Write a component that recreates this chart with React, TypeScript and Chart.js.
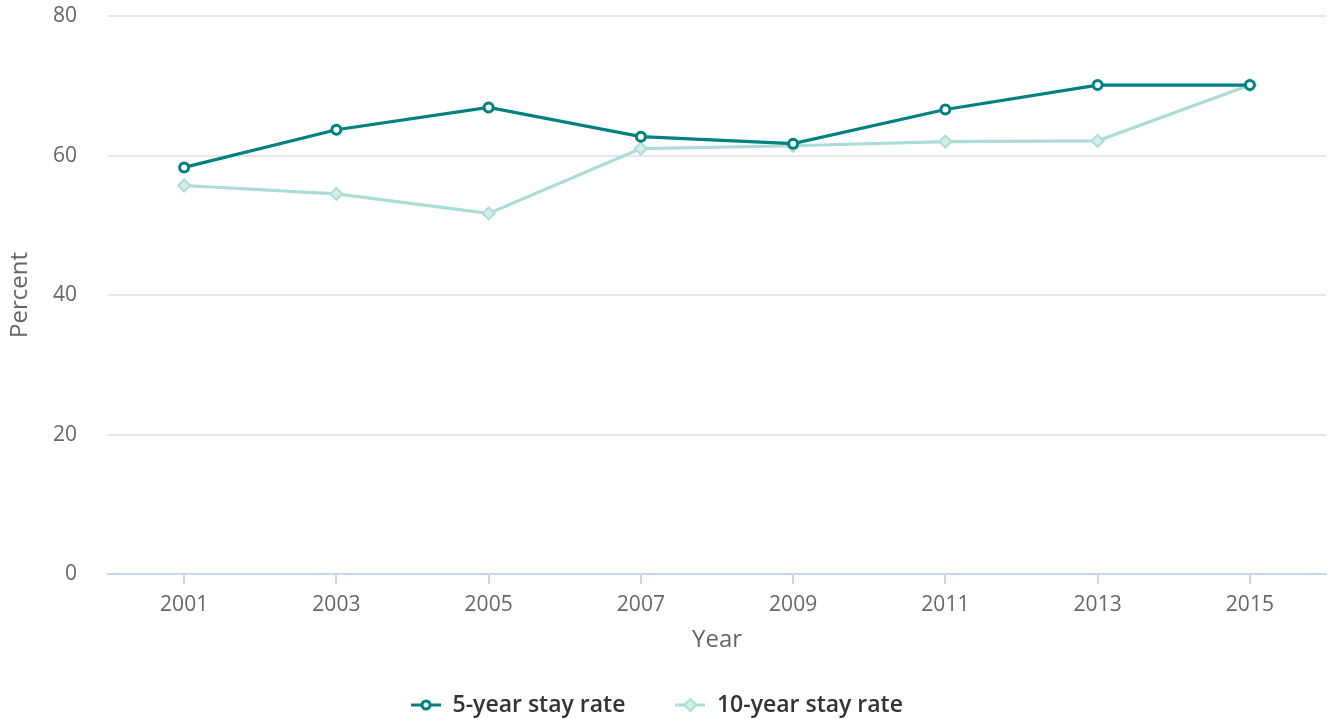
import React, { useEffect, useRef } from "react";
import { Chart, registerables } from "chart.js";

Chart.register(...registerables);

const years = ["2001", "2003", "2005", "2007", "2009", "2011", "2013", "2015"];
const fiveYear = [58.3, 63.7, 66.9, 62.7, 61.7, 66.6, 70.1, 70.1];
const tenYear = [55.7, 54.5, 51.7, 61.0, 61.4, 62.0, 62.1, 70.1];
const seriesNames = ["5-year stay rate", "10-year stay rate"];
const yTicks = [0, 20, 40, 60, 80];

const DARK = "#00807f";
const LIGHT = "#acdcd8";
const FONT = "'Open Sans', 'Noto Sans', sans-serif";

function legendIcon(color: string, kind: "circle" | "diamond") {
  const c = document.createElement("canvas");
  c.width = 30;
  c.height = 16;
  const ctx = c.getContext("2d")!;
  ctx.strokeStyle = color;
  ctx.lineWidth = 3;
  ctx.beginPath();
  ctx.moveTo(0, 8);
  ctx.lineTo(30, 8);
  ctx.stroke();
  ctx.beginPath();
  if (kind === "circle") {
    ctx.lineWidth = 3;
    ctx.fillStyle = "#ffffff";
    ctx.arc(15, 8, 4, 0, Math.PI * 2);
  } else {
    ctx.lineWidth = 2;
    ctx.fillStyle = "#d5eeeb";
    ctx.moveTo(15, 2);
    ctx.lineTo(21, 8);
    ctx.lineTo(15, 14);
    ctx.lineTo(9, 8);
    ctx.closePath();
  }
  ctx.fill();
  ctx.stroke();
  return c;
}

export default function App() {
  const ref = useRef<HTMLCanvasElement | null>(null);

  useEffect(() => {
    if (!ref.current) return;
    const icons = [legendIcon(DARK, "circle"), legendIcon(LIGHT, "diamond")];
    const chart = new Chart(ref.current, {
      type: "line",
      data: {
        labels: years,
        datasets: [
          {
            label: seriesNames[0],
            data: fiveYear,
            borderColor: DARK,
            backgroundColor: "#ffffff",
            borderWidth: 3.2,
            pointStyle: "circle",
            pointRadius: 4.5,
            pointBorderWidth: 3,
            pointBorderColor: DARK,
            pointBackgroundColor: "#ffffff",
            tension: 0,
          },
          {
            label: seriesNames[1],
            data: tenYear,
            borderColor: LIGHT,
            backgroundColor: "#ffffff",
            borderWidth: 3.2,
            pointStyle: "rectRot",
            pointRadius: 6,
            pointBorderWidth: 2,
            pointBorderColor: LIGHT,
            pointBackgroundColor: "#d5eeeb",
            tension: 0,
          },
        ],
      },
      options: {
        animation: false,
        responsive: true,
        maintainAspectRatio: false,
        layout: { autoPadding: false, padding: { top: 16, right: 5, left: -12, bottom: -7.5 } },
        plugins: {
          tooltip: { enabled: false },
          legend: {
            position: "bottom",
            labels: {
              usePointStyle: true,
              pointStyleWidth: 30,
              font: { family: FONT, size: 23, weight: "600" },
              color: "#333333",
              padding: 50,
              generateLabels: (ch: any) =>
                ch.data.datasets.map((ds: any, i: number) => ({
                  text: ds.label,
                  pointStyle: icons[i],
                  fillStyle: ds.borderColor,
                  strokeStyle: ds.borderColor,
                  lineWidth: 0,
                  hidden: false,
                  datasetIndex: i,
                  fontColor: "#333333",
                })),
            },
          },
        },
        scales: {
          x: {
            offset: true,
            afterFit: (axis: any) => {
              axis.height = 69.4;
              axis.paddingLeft = 0;
              axis.paddingRight = 0;
            },
            grid: {
              offset: false,
              drawOnChartArea: false,
              drawTicks: true,
              tickLength: 10,
              color: "#ccd6eb",
              lineWidth: 2,
            },
            border: { color: "#ccd6eb", width: 2 },
            ticks: {
              color: "#666666",
              font: { family: FONT, size: 21 },
              padding: 8,
              maxRotation: 0,
            },
            title: {
              display: true,
              text: "Year",
              color: "#666666",
              font: { family: FONT, size: 24 },
              padding: { top: 4, bottom: -11 },
            },
          },
          y: {
            min: 0,
            max: 80,
            afterBuildTicks: (axis: any) => {
              axis.ticks = yTicks.map((v) => ({ value: v }));
            },
            afterFit: (axis: any) => {
              axis.width = 120;
            },
            ticks: {
              color: "#666666",
              font: { family: FONT, size: 21 },
              padding: 3,
            },
            grid: {
              color: "#e6e6e6",
              lineWidth: 2,
              drawTicks: true,
              tickLength: 28,
              tickColor: "rgba(0,0,0,0)",
            },
            border: { display: false },
            title: {
              display: true,
              text: "Percent",
              color: "#666666",
              font: { family: FONT, size: 24 },
              padding: { top: 18, bottom: 0 },
            },
          },
        },
      },
    });
    return () => chart.destroy();
  }, []);

  return (
    <div style={{ position: "fixed", left: 0, top: 0, width: 1331, height: 719, background: "#fff" }}>
      <canvas ref={ref} />
    </div>
  );
}
